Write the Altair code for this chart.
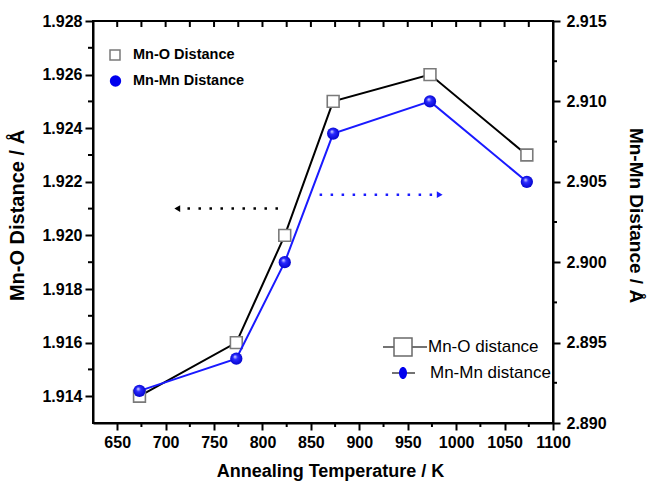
import altair as alt
import pandas as pd

# ---- data ----
temps = [673, 773, 823, 873, 973, 1073]
mn_o = [1.914, 1.916, 1.920, 1.925, 1.926, 1.923]
mn_mn = [2.892, 2.894, 2.900, 2.908, 2.910, 2.905]

x_major = [650, 700, 750, 800, 850, 900, 950, 1000, 1050, 1100]
x_minor = [675, 725, 775, 825, 875, 925, 975, 1025, 1075]
x_top = [650, 675, 700, 725, 750, 775, 800, 825, 850, 875, 900, 925, 950,
         975, 1000, 1025, 1050, 1075]
left_major = [1.914, 1.916, 1.918, 1.920, 1.922, 1.924, 1.926, 1.928]
left_minor = [1.915, 1.917, 1.919, 1.921, 1.923, 1.925, 1.927]
right_major = [2.890, 2.895, 2.900, 2.905, 2.910, 2.915]
right_minor = [2.8925, 2.8975, 2.9025, 2.9075, 2.9125]

# annotation arrows (data coordinates)
arrow_left = {"xs": [816], "xe": [712], "y": [1.921]}
arrow_right = {"xs": [859], "xe": [983], "y": [2.9042]}

FONT = "Liberation Sans"
W, H = 460, 402

df = pd.DataFrame({"T": temps, "MnO": mn_o, "MnMn": mn_mn})
one = pd.DataFrame({"a": [0]})

xscale = alt.Scale(domain=[625, 1100], nice=False, zero=False)
yl_scale = alt.Scale(domain=[1.913, 1.928], nice=False, zero=False)
yr_scale = alt.Scale(domain=[2.890, 2.915], nice=False, zero=False)

x_axis = alt.Axis(values=x_major, title="Annealing Temperature / K", format="d",
                  tickSize=7, labelPadding=4, titlePadding=12, labelFlush=False,
                  titleX=237, titleFontSize=18)
yl_axis = alt.Axis(values=left_major, title="Mn-O Distance / Å", format=".3f",
                   orient="left", tickSize=8, labelPadding=3, titlePadding=14,
                   labelFlush=False, titleY=194, titleFontSize=20)
yr_axis = alt.Axis(values=right_major, title="Mn-Mn Distance / Å", format=".3f",
                   orient="right", tickSize=7, labelPadding=6, titlePadding=19,
                   labelFlush=False, titleY=194, titleFontSize=19)

base = alt.Chart(df)

# ---- left (Mn-O) group ----
line_o = base.mark_line(color="black", strokeWidth=2).encode(
    x=alt.X("T:Q", scale=xscale, axis=x_axis),
    y=alt.Y("MnO:Q", scale=yl_scale, axis=yl_axis),
)
pts_o = base.mark_point(shape="square", filled=True, fill="white", stroke="#7a7a7a",
                        strokeWidth=1.6, size=140, opacity=1).encode(
    x="T:Q", y="MnO:Q",
)
lminor = alt.Chart(pd.DataFrame({"v": left_minor})).mark_rule(
    color="black", strokeWidth=2).encode(
    y="v:Q", x=alt.value(-5), x2=alt.value(0))
bminor = alt.Chart(pd.DataFrame({"v": x_minor})).mark_rule(
    color="black", strokeWidth=2).encode(
    x="v:Q", y=alt.value(H), y2=alt.value(H + 4))
tticks = alt.Chart(pd.DataFrame({"v": x_top})).mark_rule(
    color="black", strokeWidth=2).encode(
    x="v:Q", y=alt.value(0), y2=alt.value(6))
arr_l = alt.Chart(pd.DataFrame(arrow_left))
arr_l_line = arr_l.mark_rule(color="black", strokeWidth=2.5, strokeDash=[2.5, 8.5]).encode(
    x="xs:Q", x2="xe:Q", y="y:Q")
arr_l_head = arr_l.mark_point(shape="triangle-left", filled=True, color="black",
                              size=45, opacity=1).encode(
    x="xe:Q", y="y:Q")

left_group = alt.layer(line_o, pts_o, lminor, bminor, tticks, arr_l_line, arr_l_head)

# ---- right (Mn-Mn) group ----
ball = alt.RadialGradient(
    gradient="radial",
    stops=[alt.GradientStop(offset=0, color="#e8e8ff"),
           alt.GradientStop(offset=0.35, color="#2a2aff"),
           alt.GradientStop(offset=1, color="#0000c8")],
    x1=0.38, y1=0.32, r1=0, x2=0.5, y2=0.5, r2=0.55)

line_mn = base.mark_line(color="#1a1aff", strokeWidth=2).encode(
    x="T:Q",
    y=alt.Y("MnMn:Q", scale=yr_scale, axis=yr_axis),
)
pts_mn = base.mark_point(shape="circle", filled=True, fill=ball, size=150,
                         opacity=1, strokeWidth=0).encode(
    x="T:Q", y="MnMn:Q",
)
rminor = alt.Chart(pd.DataFrame({"v": right_minor})).mark_rule(
    color="black", strokeWidth=2).encode(
    y="v:Q", x=alt.value(W), x2=alt.value(W + 4))
arr_r = alt.Chart(pd.DataFrame(arrow_right))
arr_r_line = arr_r.mark_rule(color="#1a1aff", strokeWidth=2.5, strokeDash=[2.5, 8.5]).encode(
    x="xs:Q", x2="xe:Q", y="y:Q")
arr_r_head = arr_r.mark_point(shape="triangle-right", filled=True, color="#1a1aff",
                              size=45, opacity=1).encode(
    x="xe:Q", y="y:Q")

right_group = alt.layer(line_mn, pts_mn, rminor, arr_r_line, arr_r_head)

# ---- legends (drawn as annotations) ----
c1 = alt.Chart(one)
leg1_sq = c1.mark_point(shape="square", filled=True, fill="white", stroke="#7a7a7a",
                        strokeWidth=1.5, size=100, opacity=1).encode(
    x=alt.value(22), y=alt.value(34))
leg1_ci = c1.mark_point(shape="circle", filled=True, color="#0000ee", size=130,
                        opacity=1).encode(x=alt.value(22.5), y=alt.value(60))
leg1_t1 = c1.mark_text(align="left", baseline="middle", font=FONT, fontSize=14.5,
                       fontWeight="bold", color="black").encode(
    x=alt.value(40), y=alt.value(34), text=alt.value("Mn-O Distance"))
leg1_t2 = c1.mark_text(align="left", baseline="middle", font=FONT, fontSize=14.5,
                       fontWeight="bold", color="black").encode(
    x=alt.value(40), y=alt.value(60), text=alt.value("Mn-Mn Distance"))

leg2_l1 = c1.mark_rule(color="#444", strokeWidth=1.5).encode(
    x=alt.value(290), x2=alt.value(334), y=alt.value(326))
leg2_sq = c1.mark_point(shape="square", filled=True, fill="white", stroke="#6a6a6a",
                        strokeWidth=1.5, size=324, opacity=1).encode(
    x=alt.value(310), y=alt.value(326))
leg2_l2 = c1.mark_rule(color="#444", strokeWidth=1.5).encode(
    x=alt.value(299), x2=alt.value(322), y=alt.value(352))
leg2_el = c1.mark_point(shape="M-0.67,0A0.67,1,0,1,1,0.67,0A0.67,1,0,1,1,-0.67,0Z",
                        filled=True, color="#0000ee", size=144, opacity=1).encode(
    x=alt.value(310), y=alt.value(352))
leg2_t1 = c1.mark_text(align="left", baseline="middle", font=FONT, fontSize=17,
                       color="black").encode(
    x=alt.value(335), y=alt.value(326), text=alt.value("Mn-O distance"))
leg2_t2 = c1.mark_text(align="left", baseline="middle", font=FONT, fontSize=17,
                       color="black").encode(
    x=alt.value(337), y=alt.value(352), text=alt.value("Mn-Mn distance"))

chart = alt.layer(
    left_group, right_group,
    leg1_sq, leg1_ci, leg1_t1, leg1_t2,
    leg2_l1, leg2_sq, leg2_l2, leg2_el, leg2_t1, leg2_t2,
).resolve_scale(y="independent").properties(
    width=W, height=H,
    padding={"left": 93, "top": 21, "right": 96, "bottom": 59},
    autosize=alt.AutoSizeParams(type="none"),
    background="white",
).configure_view(
    stroke="black", strokeWidth=2,
).configure_axis(
    grid=False, domainColor="black", domainWidth=2, tickColor="black", tickWidth=2,
    labelFont=FONT, labelFontSize=16, labelFontWeight="bold", labelColor="black",
    titleFont=FONT, titleFontWeight="bold", titleColor="black",
)

chart.save("out.html", embed_options={"renderer": "svg", "actions": False})
